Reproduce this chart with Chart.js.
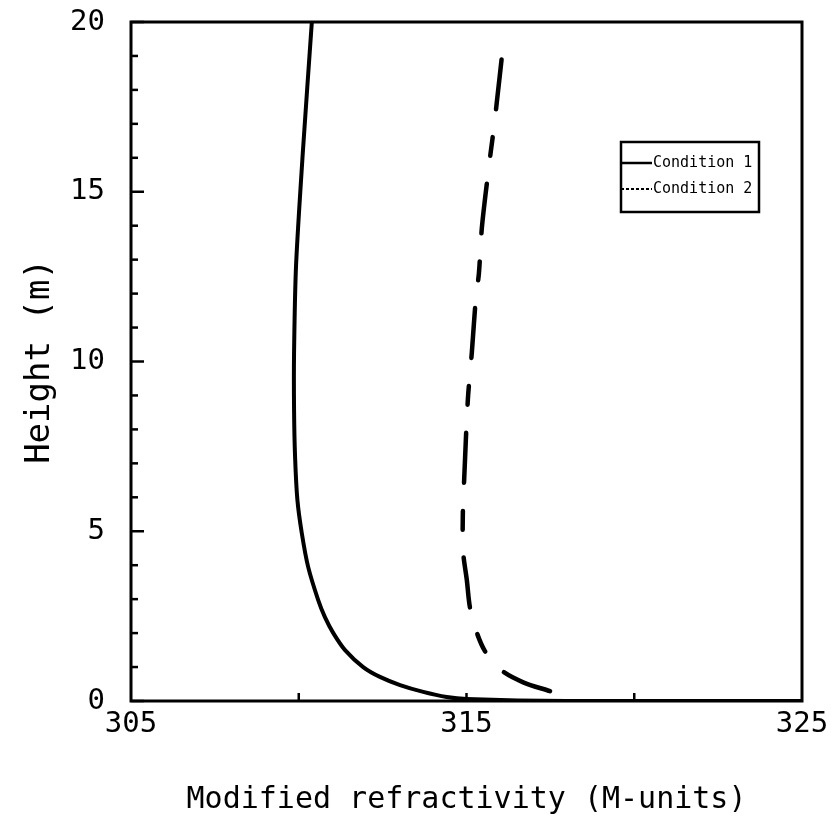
<!DOCTYPE html>
<html><head><meta charset="utf-8">
<script src="https://cdn.jsdelivr.net/npm/chart.js@4.4.0/dist/chart.umd.min.js"></script>
<style>html,body{margin:0;padding:0;background:#fff;}canvas{display:block;}</style>
</head><body>
<canvas id="c" width="833" height="823"></canvas>
<script>
// Data
const seriesLabels = ['Condition 1', 'Condition 2'];
const heights1 = [0.0, 0.0, 0.06, 0.12, 0.27, 0.47, 0.71, 1.0, 1.5, 2.0, 2.47, 2.97, 3.95, 4.95, 5.92, 7.2, 8.6, 10.25, 12.84, 16.14, 20.0];
const mUnits1  = [325.0, 318.0, 315.01, 314.41, 313.71, 313.02, 312.42, 311.92, 311.38, 311.03, 310.78, 310.58, 310.28, 310.09, 309.96, 309.89, 309.86, 309.86, 309.92, 310.12, 310.39];
const heights2 = [0.29, 0.55, 0.91, 1.47, 2.09, 2.77, 3.56, 4.39, 5.48, 6.51, 8.87, 10.28, 11.87, 12.6, 13.96, 15.52, 16.23, 16.91, 17.61, 19.2];
const mUnits2  = [317.49, 316.69, 316.03, 315.55, 315.28, 315.10, 315.01, 314.90, 314.89, 314.93, 315.04, 315.16, 315.28, 315.37, 315.46, 315.64, 315.73, 315.82, 315.90, 316.08];
const xTickLabels = [305, 315, 325];
const yTickLabels = [0, 5, 10, 15, 20];
const xTitle = 'Modified refractivity (M-units)';
const yTitle = 'Height (m)';

const FONT = "'DejaVu Sans Mono', 'Liberation Mono', monospace";

function toPoints(xs, ys) { return xs.map((v, i) => ({ x: v, y: ys[i] })); }

const framePlugin = {
  id: 'frame',
  afterDraw(chart) {
    const { ctx, chartArea: a, scales: { x, y } } = chart;
    ctx.save();
    ctx.strokeStyle = '#000';
    ctx.lineWidth = 3;
    ctx.strokeRect(a.left, a.top, a.right - a.left, a.bottom - a.top);
    ctx.lineWidth = 2.5;
    y.ticks.forEach(t => {
      const py = y.getPixelForValue(t.value);
      const len = yTickLabels.includes(t.value) ? 13 : 7;
      ctx.beginPath(); ctx.moveTo(a.left, py); ctx.lineTo(a.left + len, py); ctx.stroke();
    });
    x.ticks.forEach(t => {
      if (t.value === x.min || t.value === x.max) return;
      const px = x.getPixelForValue(t.value);
      ctx.beginPath(); ctx.moveTo(px, a.bottom); ctx.lineTo(px, a.bottom - 8); ctx.stroke();
    });
    // legend box
    const lx = a.right - 181, ly = a.top + 120, lw = 138, lh = 70;
    ctx.fillStyle = '#fff';
    ctx.fillRect(lx, ly, lw, lh);
    ctx.lineWidth = 2.5;
    ctx.strokeRect(lx, ly, lw, lh);
    ctx.font = "15px " + FONT;
    ctx.textBaseline = 'middle';
    ctx.textAlign = 'left';
    ctx.fillStyle = '#000';
    chart.data.datasets.forEach((ds, i) => {
      const yy = ly + 21 + i * 26;
      ctx.beginPath();
      ctx.lineWidth = i === 0 ? 2.5 : 2;
      ctx.setLineDash(i === 0 ? [] : [3, 2]);
      ctx.moveTo(lx, yy); ctx.lineTo(lx + 31, yy); ctx.stroke();
      ctx.setLineDash([]);
      ctx.fillText(ds.label, lx + 32, yy);
    });
    ctx.restore();
  }
};

const hiddenGrid = { display: true, drawOnChartArea: false, drawTicks: true, color: 'rgba(0,0,0,0)' };

new Chart(document.getElementById('c'), {
  type: 'scatter',
  data: {
    datasets: [
      {
        label: seriesLabels[0],
        data: toPoints(mUnits1, heights1),
        showLine: true, borderColor: '#000', backgroundColor: '#000',
        borderWidth: 4, pointRadius: 0, tension: 0.25, borderCapStyle: 'round'
      },
      {
        label: seriesLabels[1],
        data: toPoints(mUnits2, heights2),
        showLine: true, borderColor: '#000', backgroundColor: '#000',
        borderWidth: 4.5, pointRadius: 0, tension: 0.3, borderCapStyle: 'round',
        borderDash: [50, 28, 19, 28]
      }
    ]
  },
  options: {
    responsive: false,
    animation: false,
    devicePixelRatio: 1,
    layout: { padding: { left: 0, right: 31, top: 22, bottom: 0 } },
    plugins: { legend: { display: false }, tooltip: { enabled: false } },
    scales: {
      x: {
        type: 'linear', min: 305, max: 325,
        afterFit(s) { s.height = 122; },
        grid: Object.assign({ tickLength: 6 }, hiddenGrid),
        border: { display: false },
        ticks: {
          stepSize: 5, autoSkip: false, maxRotation: 0, padding: 0,
          color: '#000', font: { family: FONT, size: 29 },
          callback: v => xTickLabels.includes(v) ? String(v) : ''
        },
        title: { display: true, text: xTitle, color: '#000', font: { family: FONT, size: 30 }, padding: { top: 0, bottom: 5 } }
      },
      y: {
        type: 'linear', min: 0, max: 20,
        afterFit(s) { s.width = 131; },
        grid: Object.assign({ tickLength: 26 }, hiddenGrid),
        border: { display: false },
        ticks: {
          stepSize: 1, autoSkip: false, padding: 0,
          color: '#000', font: { family: FONT, size: 29 },
          callback: v => yTickLabels.includes(v) ? String(v) : ''
        },
        title: { display: true, text: yTitle, color: '#000', font: { family: FONT, size: 34 }, padding: { top: 20, bottom: 0 } }
      }
    }
  },
  plugins: [framePlugin]
});
</script>
</body></html>
